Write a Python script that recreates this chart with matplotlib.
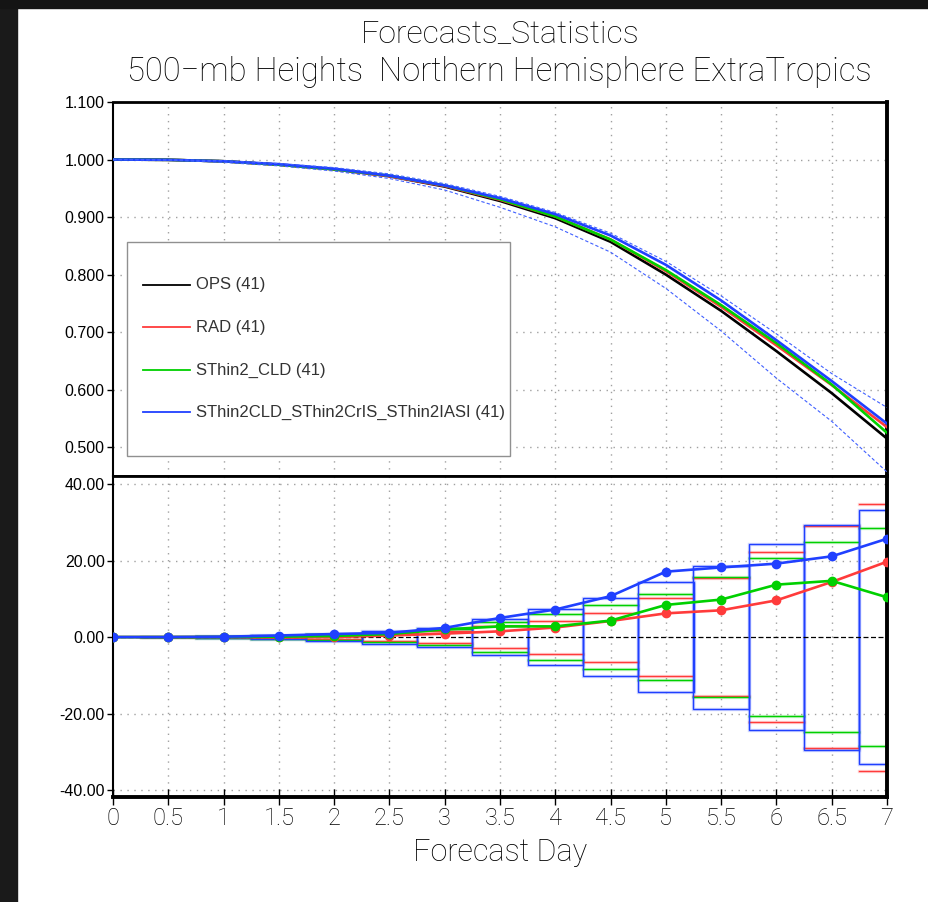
import numpy as np
import matplotlib.pyplot as plt
from matplotlib.patches import Rectangle

plt.rcParams['font.family'] = ['Liberation Sans', 'DejaVu Sans']
thin = dict(family=['Roboto', 'DejaVu Sans'], fontweight='light')

# forecast days
days = np.arange(0, 7.01, 0.5)

# anomaly correlation, 500-mb heights, NH extratropics
ac_ops = [1.000, 0.9995, 0.997, 0.991, 0.983, 0.971, 0.953, 0.928, 0.898,
          0.857, 0.800, 0.737, 0.667, 0.594, 0.515]
ac_rad = [1.000, 0.9995, 0.997, 0.991, 0.983, 0.971, 0.954, 0.930, 0.901,
          0.861, 0.806, 0.744, 0.677, 0.608, 0.535]
ac_cld = [1.000, 0.9995, 0.997, 0.991, 0.983, 0.972, 0.955, 0.931, 0.901,
          0.861, 0.808, 0.747, 0.681, 0.609, 0.525]
ac_iasi = [1.000, 0.9995, 0.997, 0.992, 0.984, 0.972, 0.955, 0.933, 0.905,
           0.868, 0.817, 0.755, 0.686, 0.615, 0.541]
ac_iasi_hi = [1.000, 0.9998, 0.998, 0.993, 0.986, 0.975, 0.958, 0.936, 0.908,
              0.872, 0.823, 0.763, 0.697, 0.628, 0.569]
ac_iasi_lo = [1.000, 0.999, 0.995, 0.989, 0.980, 0.967, 0.947, 0.917, 0.883,
              0.839, 0.776, 0.702, 0.620, 0.545, 0.457]

# differences from OPS (x1000)
diff_rad = [0, 0, 0, -0.1, 0.0, 0.4, 0.9, 1.5, 2.5, 4.2, 6.2, 7.0, 9.6, 14.4, 19.7]
diff_cld = [0, 0, 0, 0.1, 0.3, 0.8, 2.0, 2.8, 2.8, 4.3, 8.4, 9.8, 13.7, 14.7, 10.4]
diff_iasi = [0, 0, 0.1, 0.4, 0.8, 1.1, 2.4, 5.0, 7.2, 10.7, 17.1, 18.2, 19.2, 21.1, 25.7]

# 95% significance half-widths for each experiment
sig_rad = [0, 0.03, 0.1, 0.3, 0.6, 1.0, 1.5, 2.8, 4.3, 6.4, 10.2, 15.4, 22.2, 29.0, 34.9]
sig_cld = [0, 0.04, 0.15, 0.4, 0.8, 1.3, 2.1, 3.9, 6.1, 8.3, 11.3, 15.6, 20.7, 24.8, 28.6]
sig_iasi = [0, 0.05, 0.2, 0.5, 0.9, 1.7, 2.5, 4.6, 7.3, 10.3, 14.3, 18.7, 24.2, 29.4, 33.2]

names = ['OPS (41)', 'RAD (41)', 'SThin2_CLD (41)',
         'SThin2CLD_SThin2CrIS_SThin2IASI (41)']
colors = ['black', '#ff3b3b', '#00d000', '#2040ff']

W, H = 929, 902
fig = plt.figure(figsize=(W / 100, H / 100), dpi=100)

# dark border strips
fig.patches.append(Rectangle((0, 0), 17 / W, 1, transform=fig.transFigure,
                             color='#1a1a1a', zorder=-10))
fig.patches.append(Rectangle((0, 1 - 8 / H), 1, 8 / H, transform=fig.transFigure,
                             color='#141414', zorder=-10))

left, width = 113 / W, 774 / W
ax1 = fig.add_axes([left, 1 - 476 / H, width, 374 / H])
ax2 = fig.add_axes([left, 1 - 797 / H, width, 321 / H])

grid_kw = dict(color='#a0a0a0', linestyle=(0, (1, 4)), linewidth=1.0, zorder=0)

# ---- top panel: anomaly correlation ----
for d in days[1:-1]:
    ax1.axvline(d, **grid_kw)
for v in np.arange(0.5, 1.05, 0.1):
    ax1.axhline(v, **grid_kw)

series = [ac_ops, ac_rad, ac_cld, ac_iasi]
for s, c in zip(series, colors):
    ax1.plot(days, s, color=c, lw=1.9, zorder=3)
for s in (ac_iasi_hi, ac_iasi_lo):
    ax1.plot(days, s, color='#4060ff', lw=0.8, ls=(0, (3, 2)), zorder=4)

ax1.set_xlim(0, 7)
ax1.set_ylim(0.45, 1.1)
ax1.set_yticks(np.arange(0.5, 1.101, 0.1))
ax1.set_yticklabels(['%.3f' % v for v in np.arange(0.5, 1.101, 0.1)])
ax1.set_xticks([])

# legend box
ax1.add_patch(Rectangle((0.018, 0.0535), 0.495, 0.572, transform=ax1.transAxes,
                        fill=True, facecolor='white', edgecolor='#909090',
                        lw=1.0, zorder=5))
ys = [0.5107, 0.398, 0.2834, 0.171]
for name, c, y in zip(names, colors, ys):
    ax1.plot([0.0388, 0.0995], [y, y], color=c, lw=1.3,
             transform=ax1.transAxes, zorder=6)
    ax1.text(0.107, y, name, transform=ax1.transAxes, fontsize=12,
             va='center', ha='left', color='#333333', zorder=6)

# ---- bottom panel: differences with significance boxes ----
for d in days[1:-1]:
    ax2.axvline(d, **grid_kw)
for v in (-40, -20, 20, 40):
    ax2.axhline(v, **grid_kw)

# red/green thresholds as bars, blue as full boxes
for sig, c in zip([sig_rad, sig_cld], colors[1:3]):
    for d, h in zip(days[1:], sig[1:]):
        for y in (h, -h):
            ax2.plot([d - 0.25, d + 0.25], [y, y], color=c, lw=1.0, zorder=2)
            ax2.plot([d - 0.25, d + 0.25], [y, y], color=c, lw=2.4,
                     alpha=0.2, zorder=1)
for d, h in zip(days[1:], sig_iasi[1:]):
    ax2.add_patch(Rectangle((d - 0.25, -h), 0.5, 2 * h, fill=False,
                            edgecolor=colors[3], lw=1.0, zorder=2))
    ax2.add_patch(Rectangle((d - 0.25, -h), 0.5, 2 * h, fill=False,
                            edgecolor=colors[3], lw=2.4, alpha=0.2, zorder=1))

ax2.axhline(0, color='black', lw=0.9, ls=(0, (4, 2)), zorder=3)

for s, c in zip([diff_rad, diff_cld, diff_iasi], colors[1:]):
    ax2.plot(days, s, color=c, lw=1.9, marker='o', ms=6, zorder=4)

ax2.set_xlim(0, 7)
ax2.set_ylim(-41.8, 42.1)
ax2.set_yticks([-40, -20, 0, 20, 40])
ax2.set_yticklabels(['%.2f' % v for v in [-40, -20, 0, 20, 40]])
ax2.set_xticks(days)
ax2.set_xticklabels(['%g' % d for d in days], **thin)
ax2.set_xlabel('Forecast Day', fontsize=22, labelpad=6, **thin)

for ax in (ax1, ax2):
    ax.tick_params(axis='y', direction='out', length=4, width=1,
                   labelsize=11.5, pad=2)
    ax.spines['left'].set_linestyle((0, (5, 1)))
    ax.spines['left'].set_linewidth(1.5)
    ax.spines['right'].set_linewidth(2.8)
ax2.tick_params(axis='x', direction='inout', length=12, width=1,
                labelsize=17, pad=1)
ax1.spines['top'].set_linestyle((0, (5, 1)))
ax1.spines['top'].set_linewidth(2.0)
ax1.spines['bottom'].set_linewidth(2.0)
ax2.spines['top'].set_linewidth(2.0)
ax2.spines['bottom'].set_linewidth(2.8)

fig.text(0.538, 1 - 34 / H, 'Forecasts_Statistics', fontsize=23,
         ha='center', va='center', **thin)
fig.text(0.538, 1 - 72 / H, '500\u2212mb Heights  Northern Hemisphere ExtraTropics',
         fontsize=23.6, ha='center', va='center', **thin)

fig.savefig('out.png', dpi=100)
